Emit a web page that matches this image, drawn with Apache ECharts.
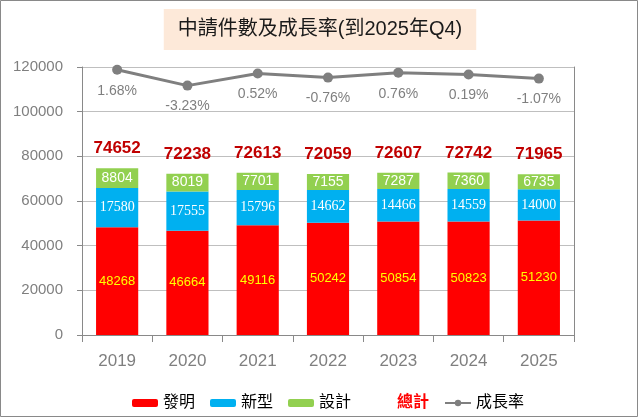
<!DOCTYPE html>
<html>
<head>
<meta charset="utf-8">
<script src="https://cdn.jsdelivr.net/npm/echarts@6/dist/echarts.min.js"></script>
<style>
html,body{margin:0;padding:0;background:#fff;}
#c{width:640px;height:418px;}
</style>
</head>
<body>
<div id="c"></div>
<script>
const years = ['2019','2020','2021','2022','2023','2024','2025'];
const invention = [48268,46664,49116,50242,50854,50823,51230];
const utility = [17580,17555,15796,14662,14466,14559,14000];
const design = [8804,8019,7701,7155,7287,7360,6735];
const totals = [74652,72238,72613,72059,72607,72742,71965];
const growth = [1.68,-3.23,0.52,-0.76,0.76,0.19,-1.07];
const yTicks = [0,20000,40000,60000,80000,100000,120000];

const chart = echarts.init(document.getElementById('c'));
const num = 'Liberation Sans, Arial, sans-serif';
const cjk = 'Liberation Sans, Noto Sans CJK TC, sans-serif';
chart.setOption({
  animation:false,
  backgroundColor:'#fff',
  graphic:[{type:'rect',shape:{x:0.5,y:0.5,width:637,height:416},style:{fill:'none',stroke:'#898989',lineWidth:1},silent:true}],
  title:{
    text:'中請件數及成長率(到2025年Q4)',
    left:'center', top:9,
    backgroundColor:'#fde9d9',
    padding:[8,14,8,14],
    textStyle:{fontFamily:cjk,fontSize:20,fontWeight:'normal',color:'#1a1a1a',lineHeight:25}
  },
  legend:{
    left:127, top:390,
    itemWidth:26, itemHeight:8, itemGap:15,
    textStyle:{fontFamily:cjk,fontSize:16,color:'#000'},
    data:[
      {name:'發明'},{name:'新型'},{name:'設計'},
      {name:'總計',icon:'none',textStyle:{color:'#ff0000',fontWeight:'bold'}},
      {name:'成長率'}
    ]
  },
  grid:{left:82,right:66,top:67,bottom:83},
  xAxis:{
    type:'category', data:years,
    axisLine:{lineStyle:{color:'#898989',width:1}},
    axisTick:{show:true,length:7,lineStyle:{color:'#898989'}},
    axisLabel:{fontFamily:num,fontSize:17,color:'#7f7f7f',margin:18}
  },
  yAxis:[{
    type:'value', min:yTicks[0], max:yTicks[yTicks.length-1], interval:yTicks[1]-yTicks[0],
    axisLine:{show:true,lineStyle:{color:'#898989'}},
    axisTick:{show:true,length:5,lineStyle:{color:'#898989'}},
    axisLabel:{fontFamily:num,fontSize:15,color:'#7f7f7f',margin:19,formatter:v=>String(v)},
    splitLine:{lineStyle:{color:'#bfbfbf'}}
  },{
    type:'value', min:-80, max:2.5,
    axisLine:{show:true,lineStyle:{color:'#898989'}},
    axisTick:{show:false}, axisLabel:{show:false}, splitLine:{show:false}
  }],
  series:[
    {name:'發明',type:'bar',stack:'a',data:invention,barWidth:'60%',
     itemStyle:{color:'#ff0000'},
     label:{show:true,position:'inside',color:'#ffff00',fontFamily:num,fontSize:13}},
    {name:'新型',type:'bar',stack:'a',data:utility,
     itemStyle:{color:'#00b0f0'},
     label:{show:true,position:'inside',color:'#ffffff',fontFamily:'Liberation Serif, serif',fontSize:14}},
    {name:'設計',type:'bar',stack:'a',data:design,
     itemStyle:{color:'#92d050'},
     label:{show:true,position:'inside',color:'#ffffff',fontFamily:num,fontSize:14}},
    {name:'設計',type:'bar',stack:'a',data:design.map(()=>0),silent:true,
     itemStyle:{color:'transparent'},
     label:{show:true,position:'top',distance:11,color:'#c00000',fontFamily:num,fontSize:17,fontWeight:'bold',
       formatter:p=>totals[p.dataIndex]},
     legendHoverLink:false, tooltip:{show:false}},
    {name:'總計',type:'line',data:[]},
    {name:'成長率',type:'line',yAxisIndex:1,data:growth,
     symbol:'circle',symbolSize:10,
     lineStyle:{color:'#7f7f7f',width:3},itemStyle:{color:'#7f7f7f'},
     label:{show:true,position:'bottom',distance:9,color:'#7f7f7f',fontFamily:num,fontSize:14,
       formatter:p=>p.value.toFixed(2)+'%'}}
  ]
});
</script>
</body>
</html>
